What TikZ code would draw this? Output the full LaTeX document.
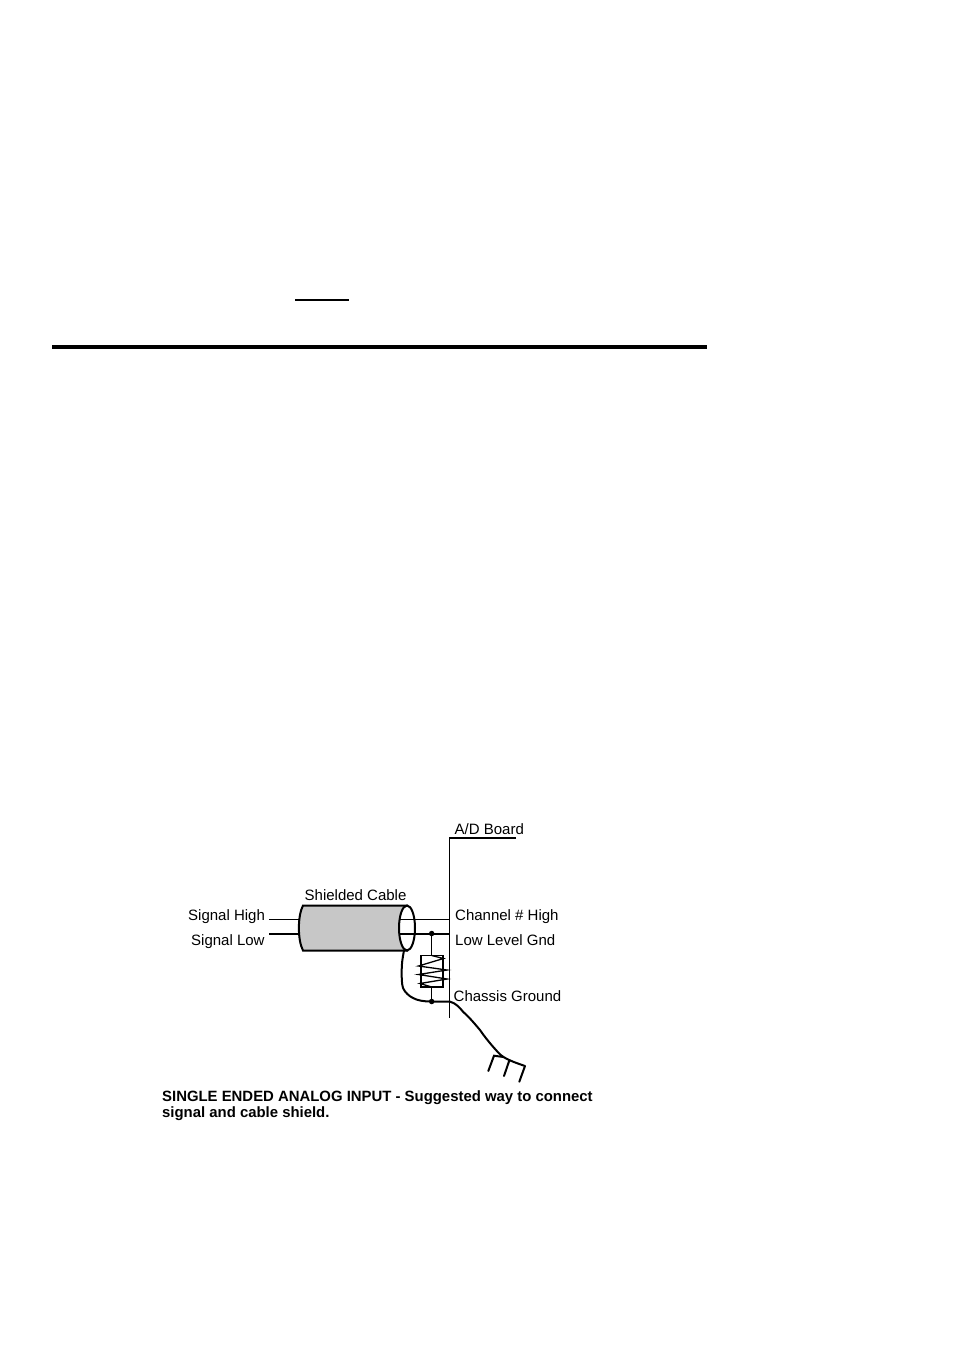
\documentclass[tikz,border=0pt]{standalone}
\usepackage{fontspec}
\setmainfont{Liberation Sans}
\begin{document}
\begin{tikzpicture}[x=1pt,y=-1pt,
  lbl/.style={anchor=base west,inner sep=0pt,font=\fontsize{15}{17}\selectfont},
  captext/.style={anchor=base west,inner sep=0pt,font=\fontsize{14.9}{17}\selectfont\bfseries},
  thinw/.style={line width=1.4pt,black},
  thickw/.style={line width=2pt,black},
  dot/.style={circle,fill=black,inner sep=0pt,minimum size=5.5pt}]
\useasboundingbox (0,0) rectangle (954,1349);
% page rules
\fill[black] (52,345) rectangle (707,349);
\draw[line width=1.3pt] (295,300) -- (349,300);
% labels
\node[lbl] (ad) at (454.5,834) {A/D Board};
\node[lbl] (sc) at (304.5,900) {Shielded Cable};
\node[lbl] (sh) at (188,920.5) {Signal High};
\node[lbl] (sl) at (191,945.5) {Signal Low};
\node[lbl] (ch) at (455,920.5) {Channel \# High};
\node[lbl] (ll) at (455,945.5) {Low Level Gnd};
\node[lbl] (cg) at (453.5,1001) {Chassis Ground};
\node[captext] (c1) at (162,1101) {SINGLE ENDED ANALOG INPUT - Suggested way to connect};
\node[captext] (c2) at (162,1117.5) {signal and cable shield.};
% coordinates
\coordinate (bt) at (449.5,838);
\coordinate (btr) at (516,838);
\coordinate (bb) at (449.5,1018);
\coordinate (shl) at (269,919.5);
\coordinate (shr) at (300,919.5);
\coordinate (sll) at (269,933.5);
\coordinate (slr) at (300,933.5);
\coordinate (hi) at (399,919.5);
\coordinate (hib) at (449.5,919.5);
\coordinate (lo) at (399,933.5);
\coordinate (lob) at (449.5,933.5);
\coordinate (gndb) at (449.5,1001.5);
\coordinate (wt) at (404,950.5);
% board
\draw[line width=1.2pt] (btr) -- (bt) -- (bb);
% cable body
\draw[thickw,fill=black!22] (303,905.5) -- (407,905.5) -- (407,950.5) -- (303,950.5)
  .. controls (297.5,940) and (297.5,916) .. cycle;
% end ellipse
\draw[thickw,fill=white] (407,928) ellipse[x radius=8,y radius=22.5];
% wires
\draw[thinw] (shl) -- (shr);
\draw[thickw] (sll) -- (slr);
\draw[thinw] (hi) -- (hib);
\draw[thickw] (lo) -- (lob);
% junctions
\node[dot] (j1) at (431.7,933.5) {};
\node[dot] (j2) at (431.7,1001.5) {};
% resistor
\node[draw,line width=1.8pt,minimum width=22.5pt,minimum height=31.5pt,inner sep=0pt] (res) at (432,971.3) {};
\draw[thinw] (j1) -- (res.north -| j1);
\draw[thinw] (res.south -| j1) -- (j2);
\draw[line width=1.3pt] (431.7,955.5) -- (443.5,958.5) -- (418.5,966) -- (447,970) -- (418.5,974.5) -- (447,979) -- (420,983.5) -- (431.7,987);
% shield to chassis ground
\draw[thickw] (wt) .. controls (402.5,958) and (401.7,964) .. (401.7,970)
  .. controls (401.7,977) and (401.5,983) .. (403,988)
  .. controls (405,992.5) and (409,996) .. (413,998)
  .. controls (418,1000.5) and (423,1001.5) .. (j2.center) -- (gndb)
  .. controls (456,1003) and (460,1008) .. (463,1011.7)
  .. controls (470,1018) and (474,1023) .. (480,1030)
  .. controls (484,1036) and (489,1042) .. (493,1046.7)
  .. controls (497,1051) and (499,1054) .. (503,1056.7)
  .. controls (510,1061) and (518,1063.5) .. (525,1066);
% ground ticks
\coordinate (t1) at (494,1055.7);
\coordinate (t2) at (509.3,1060.5);
\coordinate (t3) at (525,1066);
\coordinate (tj) at (503.5,1057);
\draw[thickw,line cap=round] (tj) -- (t1) -- (488.3,1071);
\draw[thickw,line cap=round] (t2) -- (504,1076);
\draw[thickw,line cap=round] (t3) -- (519.3,1081.7);
\end{tikzpicture}
\end{document}
